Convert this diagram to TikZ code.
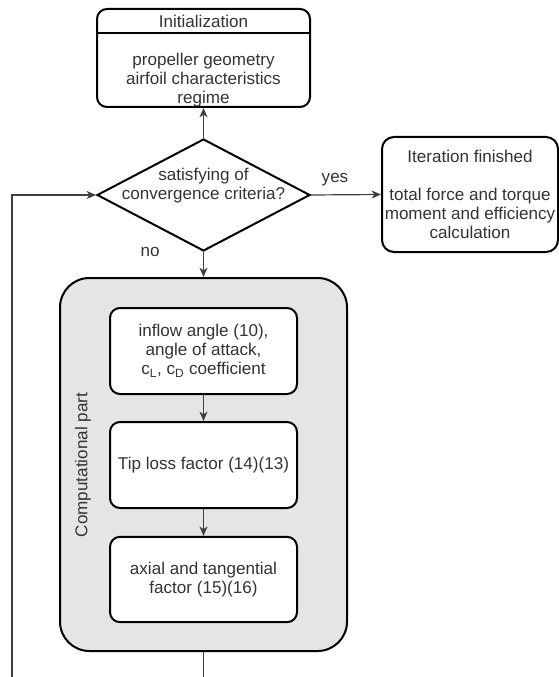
\documentclass[tikz,border=0pt]{standalone}
\usepackage{fontspec}
\setmainfont{Liberation Sans}
\usetikzlibrary{shapes.geometric,arrows.meta}
\begin{document}
\begin{tikzpicture}[x=0.75pt,y=-0.75pt,font=\fontsize{12.8}{14.3}\selectfont,
  txt/.style={text=black!80,align=center,inner sep=0pt},
  box/.style={draw,line width=1.5pt,rounded corners=7.5pt,fill=white,text=black!80,align=center,inner sep=0pt},
  conn/.style={draw=black!75,line width=0.9pt,-{Stealth[length=7pt,width=6pt,inset=2pt]}}]
\useasboundingbox (0,0) rectangle (559,677);
\clip (0,0) rectangle (559,677);
% initialization
\node[box,minimum width=159.75pt,minimum height=73.5pt](init) at (203.5,58){};
\node[txt](inithead) at (203.5,21){Initialization};
\draw[line width=1.2pt](init.north west)++(0,25)--++(213,0);
\node[txt](initbody) at (203.5,80){propeller geometry\\airfoil characteristics\\regime};
% decision
\node[draw,diamond,line width=1.5pt,inner sep=0pt,aspect=1.9,minimum width=159.75pt,minimum height=84pt](crit) at (203.5,195){};
\node[txt](crittext) at (203.5,186){satisfying of\\convergence criteria?};
\node[box,minimum width=132pt,minimum height=86.25pt,rounded corners=9pt](done) at (470,194.5){Iteration finished\\[14.3pt]total force and torque\\moment and efficiency\\calculation};
\node[txt](yes) at (335,180){yes};
\node[txt](no) at (150,252){no};
% computational part
\node[draw,line width=1.5pt,fill=gray!20,rounded corners=22pt,minimum width=215.25pt,minimum height=279.75pt](comp) at (203.5,464.5){};
\node[txt,rotate=90](complabel) at (83,465){Computational part};
\node[box,minimum width=140.25pt,minimum height=64.5pt](angle) at (203.5,351){inflow angle (10),\\angle of attack,\\c\textsubscript{L}, c\textsubscript{D} coefficient};
\node[box,minimum width=140.25pt,minimum height=64.5pt](tip) at (203.5,465){Tip loss factor (14)(13)};
\node[box,minimum width=140.25pt,minimum height=64pt](axial) at (203.5,579.5){axial and tangential\\factor (15)(16)};
\coordinate(loop) at (12,700);
\draw[conn](crit.north)--(init.south);
\draw[conn](crit.east)--(done.west);
\draw[conn](crit.south)--(comp.north);
\draw[conn](angle)--(tip);
\draw[conn](tip)--(axial);
\draw[conn](comp.south)|-(loop)|-(crit.west);
\end{tikzpicture}
\end{document}
